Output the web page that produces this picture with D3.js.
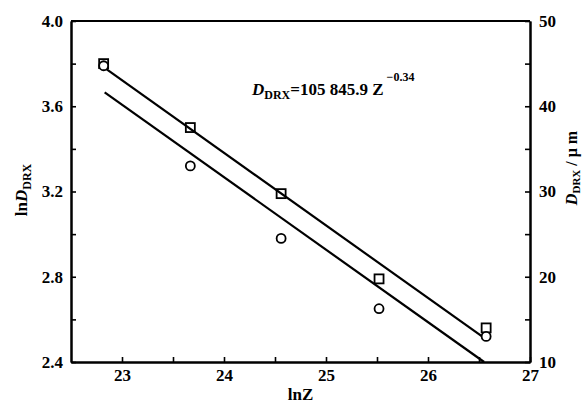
<!DOCTYPE html>
<html>
<head>
<meta charset="utf-8">
<script src="https://cdn.jsdelivr.net/npm/d3@7"></script>
<style>
  body { margin: 0; background: #fff; }
  svg text { font-family: "Liberation Serif", "Times New Roman", serif; font-weight: bold; fill: #000; }
</style>
</head>
<body>
<script>
// values
var lnZ = [22.82, 23.67, 24.56, 25.52, 26.57]
var lnDsquare = [3.80, 3.50, 3.19, 2.79, 2.56]
var lnDcircle = [3.79, 3.32, 2.98, 2.65, 2.52]

// the two fitted lines, end points
var fitUpper = [[22.83, 3.78], [26.53, 2.52]]
var fitLower = [[22.83, 3.665], [26.55, 2.40]]

var xTicks = [23, 24, 25, 26, 27]
var xMinor = [23.5, 24.5, 25.5, 26.5]
var yTicks = [2.4, 2.8, 3.2, 3.6, 4.0]
var yMinor = [2.6, 3.0, 3.4, 3.8]
var rTicks = [10, 20, 30, 40, 50]
var rMinor = [15, 25, 35, 45]

var width = 587, height = 406
var m = {left: 71, right: 57, top: 21, bottom: 44}

var svg = d3.select('body').append('svg')
  .attr('width', width).attr('height', height)

var x = d3.scaleLinear().domain([22.5, 27]).range([m.left, width - m.right])
var y = d3.scaleLinear().domain([2.4, 4.0]).range([height - m.bottom, m.top])
var yR = d3.scaleLinear().domain([10, 50]).range([height - m.bottom, m.top])

function styleAxis(g){
  g.selectAll('path.domain').attr('stroke', '#000').attr('stroke-width', 2)
  g.selectAll('.tick line').attr('stroke', '#000').attr('stroke-width', 1.6)
  g.selectAll('.tick text').style('font-size', '17px')
}

// bottom
svg.append('g').attr('transform', 'translate(0,' + y.range()[0] + ')')
  .call(d3.axisBottom(x).tickValues(xTicks).tickSize(-5).tickSizeOuter(0).tickPadding(7).tickFormat(d3.format('d')))
  .call(styleAxis)
svg.append('g').attr('transform', 'translate(0,' + y.range()[0] + ')')
  .call(d3.axisBottom(x).tickValues(xMinor).tickSize(-5).tickSizeOuter(0).tickFormat(''))
  .call(styleAxis)

// left
svg.append('g').attr('transform', 'translate(' + m.left + ',0)')
  .call(d3.axisLeft(y).tickValues(yTicks).tickSize(-5).tickSizeOuter(0).tickPadding(8).tickFormat(d3.format('.1f')))
  .call(styleAxis)
svg.append('g').attr('transform', 'translate(' + m.left + ',0)')
  .call(d3.axisLeft(y).tickValues(yMinor).tickSize(-5).tickSizeOuter(0).tickFormat(''))
  .call(styleAxis)

// right
svg.append('g').attr('transform', 'translate(' + x.range()[1] + ',0)')
  .call(d3.axisRight(yR).tickValues(rTicks).tickSize(-5).tickSizeOuter(0).tickPadding(9).tickFormat(d3.format('d')))
  .call(styleAxis)
svg.append('g').attr('transform', 'translate(' + x.range()[1] + ',0)')
  .call(d3.axisRight(yR).tickValues(rMinor).tickSize(-5).tickSizeOuter(0).tickFormat(''))
  .call(styleAxis)

// top border
svg.append('line')
  .attr('x1', x.range()[0]).attr('x2', x.range()[1])
  .attr('y1', y.range()[1]).attr('y2', y.range()[1])
  .attr('stroke', '#000').attr('stroke-width', 2)

// fitted lines
var line = d3.line().x(d => x(d[0])).y(d => y(d[1]))
svg.append('path').datum(fitUpper).attr('d', line)
  .attr('fill', 'none').attr('stroke', '#000').attr('stroke-width', 2.2)
svg.append('path').datum(fitLower).attr('d', line)
  .attr('fill', 'none').attr('stroke', '#000').attr('stroke-width', 2.2)

// markers
var pts = lnZ.map((z, i) => ({z: z, sq: lnDsquare[i], ci: lnDcircle[i]}))
var s = 9
svg.selectAll('rect.sq').data(pts).join('rect').attr('class', 'sq')
  .attr('x', d => x(d.z) - s / 2).attr('y', d => y(d.sq) - s / 2)
  .attr('width', s).attr('height', s)
  .attr('fill', 'none').attr('stroke', '#000').attr('stroke-width', 1.8)
svg.selectAll('circle.ci').data(pts).join('circle').attr('class', 'ci')
  .attr('cx', d => x(d.z)).attr('cy', d => y(d.ci)).attr('r', 4.5)
  .attr('fill', '#fff').attr('stroke', '#000').attr('stroke-width', 1.8)

// axis titles
svg.append('text')
  .attr('x', (x.range()[0] + x.range()[1]) / 2).attr('y', 400)
  .attr('text-anchor', 'middle').style('font-size', '17px')
  .text('lnZ')

var lt = svg.append('text')
  .attr('transform', 'translate(27,190) rotate(-90)')
  .attr('text-anchor', 'middle').style('font-size', '17px')
lt.append('tspan').text('ln')
lt.append('tspan').style('font-style', 'italic').text('D')
lt.append('tspan').attr('dy', 4).style('font-size', '12px').text('DRX')

var rt = svg.append('text')
  .attr('transform', 'translate(577,168) rotate(-90)')
  .attr('text-anchor', 'middle').style('font-size', '16px')
rt.append('tspan').style('font-style', 'italic').text('D')
rt.append('tspan').attr('dy', 3).style('font-size', '11px').text('DRX')
rt.append('tspan').attr('dy', -3).text(' / μ m')

// equation
var eq = svg.append('text').attr('x', 252).attr('y', 95).style('font-size', '17px')
eq.append('tspan').style('font-style', 'italic').text('D')
eq.append('tspan').attr('dy', 4).style('font-size', '12px').text('DRX')
eq.append('tspan').attr('dy', -4).text('=105 845.9 Z')
eq.append('tspan').attr('dy', -14).attr('dx', 3).style('font-size', '12px').text('\u22120.34')
</script>
</body>
</html>
